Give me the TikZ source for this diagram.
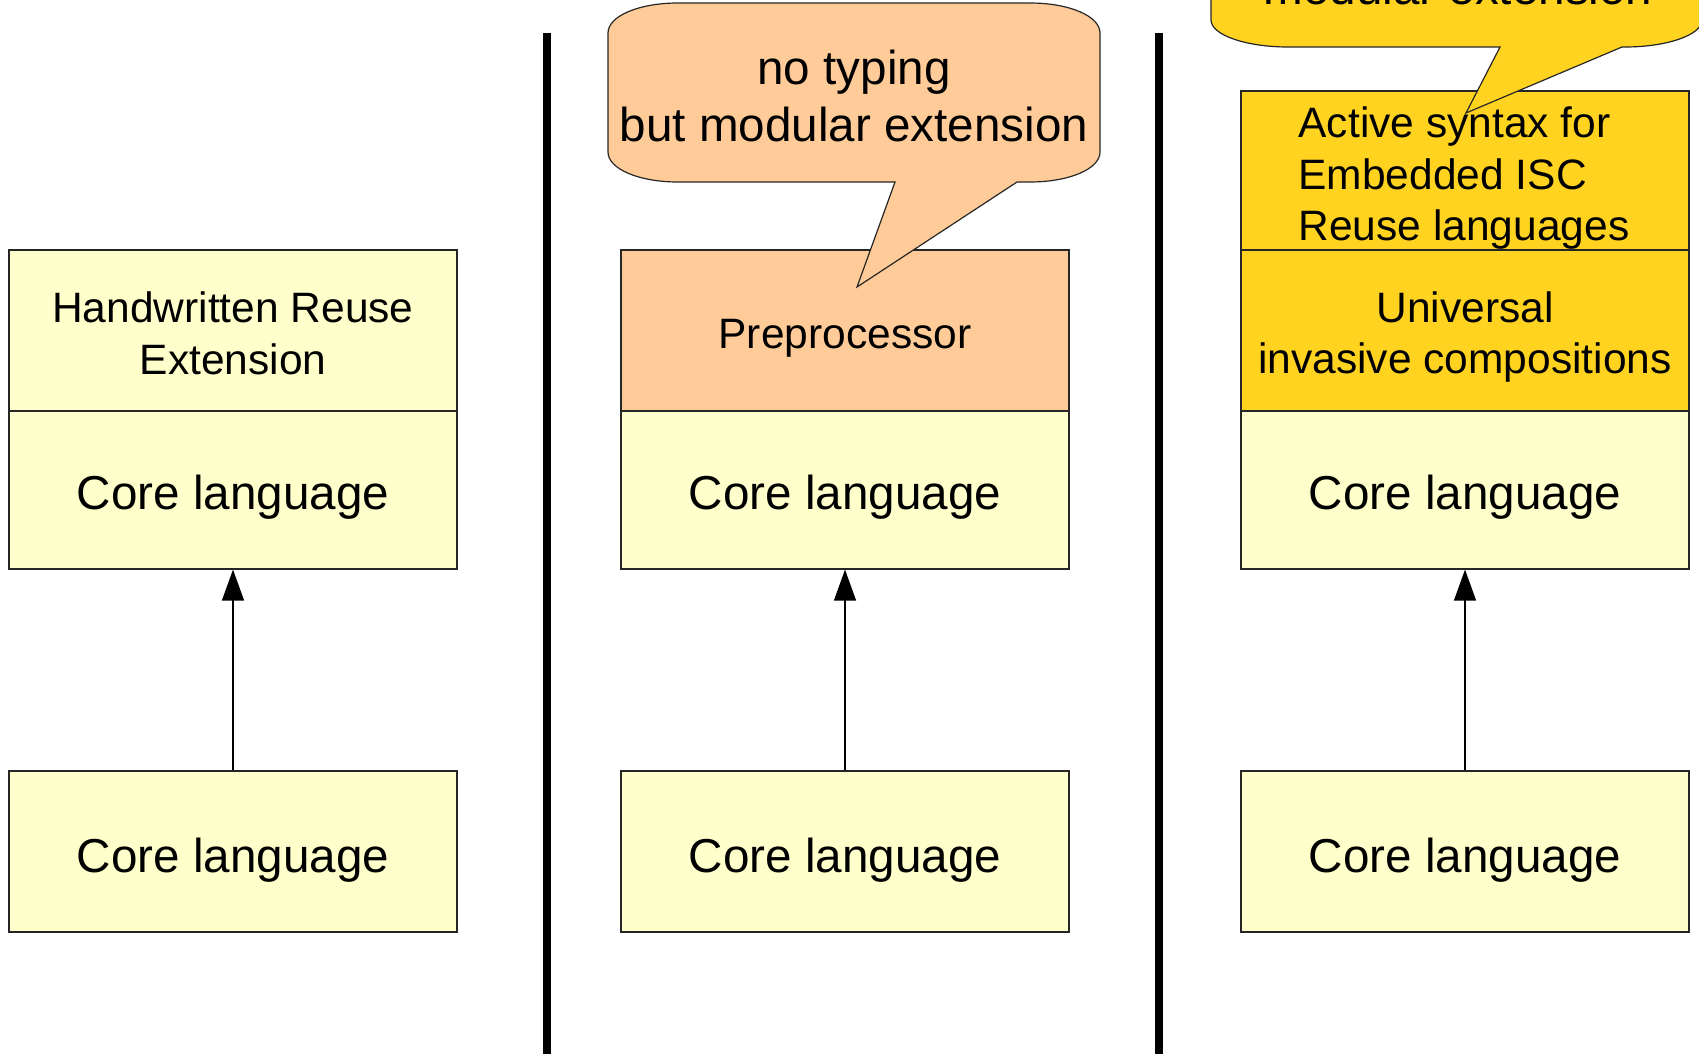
\documentclass[tikz,border=0pt]{standalone}
\usepackage{fontspec}
\setmainfont{Liberation Sans}
\usetikzlibrary{arrows.meta}
\definecolor{paleyellow}{HTML}{FFFFCC}
\definecolor{peach}{HTML}{FFCC99}
\definecolor{gold}{HTML}{FFD320}
\newcommand{\bigtext}{\fontsize{47.6}{57}\selectfont}
\newcommand{\midtext}{\fontsize{42.5}{51.5}\selectfont}
\begin{document}
\begin{tikzpicture}[x=1pt,y=-1pt,
  layer/.style={draw=black!85, line width=1.2pt, minimum width=448pt,
    inner sep=0pt, align=center},
  caption/.style={inner sep=0pt, align=center},
  callout/.style={draw=black!85, line width=1.2pt, line join=miter},
  uses/.style={draw=black, line width=1.3pt,
    -{Triangle[length=31pt,width=22pt]}},
  divider/.style={draw=black, line width=8pt}]
\useasboundingbox (0,0) rectangle (1699,1054);
\clip (0,0) rectangle (1699,1054);

% column separators
\coordinate (s1top) at (547,33);
\coordinate (s1bot) at (547,1060);
\coordinate (s2top) at (1159,33);
\coordinate (s2bot) at (1159,1060);
\draw[divider] (s1top) -- (s1bot);
\draw[divider] (s2top) -- (s2bot);

% left column: handwritten extension
\node[layer, fill=paleyellow, minimum height=161pt,
  label={[caption, font=\midtext, yshift=-3pt]center:{Handwritten Reuse\\Extension}}] (hw) at (233,330.5) {};
\node[layer, fill=paleyellow, minimum height=158pt,
  label={[caption, font=\bigtext, yshift=-7pt]center:Core language}] (coreA) at (233,490) {};
\node[layer, fill=paleyellow, minimum height=161pt,
  label={[caption, font=\bigtext, yshift=-9pt]center:Core language}] (baseA) at (233,851.5) {};
\draw[uses] (baseA.north) -- (coreA.south);

% middle column: preprocessor
\node[layer, fill=peach, minimum height=161pt,
  label={[caption, font=\midtext, yshift=-7.5pt]center:Preprocessor}] (pre) at (845,330.5) {};
\node[layer, fill=paleyellow, minimum height=158pt,
  label={[caption, font=\bigtext, yshift=-7pt]center:Core language}] (coreB) at (845,490) {};
\node[layer, fill=paleyellow, minimum height=161pt,
  label={[caption, font=\bigtext, yshift=-9pt]center:Core language}] (baseB) at (845,851.5) {};
\draw[uses] (baseB.north) -- (coreB.south);

% right column: invasive compositions
\node[layer, fill=gold, minimum height=159pt,
  label={[caption, align=left, font=\midtext, xshift=-1pt, yshift=-8pt]center:{Active syntax for\\Embedded ISC\\Reuse languages}}] (act) at (1465,170.5) {};
\node[layer, fill=gold, minimum height=161pt,
  label={[caption, font=\midtext, yshift=-6.5pt]center:{Universal\\invasive compositions}}] (uni) at (1465,330.5) {};
\node[layer, fill=paleyellow, minimum height=158pt,
  label={[caption, font=\bigtext, yshift=-7pt]center:Core language}] (coreC) at (1465,490) {};
\node[layer, fill=paleyellow, minimum height=161pt,
  label={[caption, font=\bigtext, yshift=-9pt]center:Core language}] (baseC) at (1465,851.5) {};
\draw[uses] (baseC.north) -- (coreC.south);

% speech bubble over the preprocessor
\path[callout, fill=peach] (678,3) -- (1030,3)
  .. controls (1069,3) and (1100,16) .. (1100,33) -- (1100,152)
  .. controls (1100,169) and (1069,182) .. (1030,182)
  -- (1017,182) -- (857,287) -- (895,182) -- (678,182)
  .. controls (639,182) and (608,169) .. (608,152) -- (608,33)
  .. controls (608,16) and (639,3) .. (678,3) -- cycle;
\node[caption, font=\bigtext] (noty) at (854,96) {no typing\\but modular extension};

% speech bubble over the active syntax layer
\path[callout, fill=gold] (1211,-200) -- (1702,-200) -- (1702,20)
  .. controls (1702,35) and (1667,47) .. (1625,47)
  -- (1622,47) -- (1466,113) -- (1500,47) -- (1288,47)
  .. controls (1246,47) and (1211,35) .. (1211,20) -- cycle;
\node[font=\bigtext, anchor=base, inner sep=0pt] (modext) at (1458,5) {modular extension};
\end{tikzpicture}
\end{document}
